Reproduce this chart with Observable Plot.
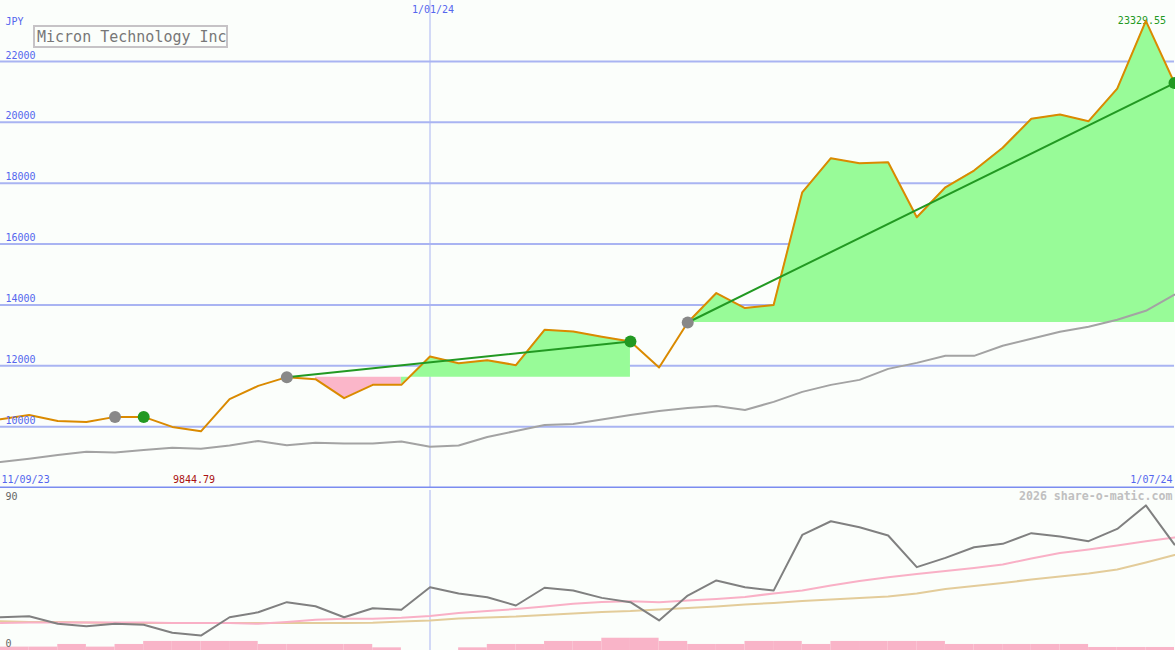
<!DOCTYPE html>
<html><head><meta charset="utf-8">
<script src="https://cdn.jsdelivr.net/npm/d3@7"></script>
<script src="https://cdn.jsdelivr.net/npm/@observablehq/plot@0.6"></script>
<style>
html,body{margin:0;padding:0;background:#fbfefb;}
#wrap{position:relative;width:1175px;height:650px;overflow:hidden;}
#wrap svg{display:block;}
#title{position:absolute;left:33px;top:25px;width:195px;height:23px;box-sizing:border-box;border:2px solid #c6c3c6;padding-left:2px;font:15px "DejaVu Sans Mono",monospace;color:#777;line-height:21px;white-space:nowrap;}
</style></head><body>
<div id="wrap"><div id="top"></div><div id="bottom"></div><div id="title">Micron Technology Inc</div></div>
<script>
const dates = ["2023-09-18","2023-09-25","2023-10-02","2023-10-09","2023-10-16","2023-10-23","2023-10-30","2023-11-06","2023-11-13","2023-11-20","2023-11-27","2023-12-04","2023-12-11","2023-12-18","2023-12-25","2024-01-01","2024-01-08","2024-01-15","2024-01-22","2024-01-29","2024-02-05","2024-02-12","2024-02-19","2024-02-26","2024-03-04","2024-03-11","2024-03-18","2024-03-25","2024-04-01","2024-04-08","2024-04-15","2024-04-22","2024-04-29","2024-05-06","2024-05-13","2024-05-20","2024-05-27","2024-06-03","2024-06-10","2024-06-17","2024-06-24","2024-07-01"];
const price = [10243,10385,10188,10155,10320,10320,9990,9844.79,10901,11339,11625,11559,10934,11372,11372,12303,12085,12184,12020,13181,13125,12951,12796,11941,13421,14389,13895,13994,17699,18818,18653,18686,16877,17864,18413,19160,20114,20256,20036,21102,23329.55,21286];
const movingAvg = [8838,8946,9068,9176,9150,9232,9308,9275,9381,9529,9387,9473,9446,9446,9512,9341,9381,9660,9858,10055,10088,10236,10384,10516,10615,10681,10549,10812,11141,11372,11536,11898,12095,12326,12326,12655,12885,13115,13280,13510,13806,14333];
const oscillator = [18.7,19.3,15.0,13.7,15.0,14.5,10.0,8.4,18.7,21.5,27.2,24.9,18.7,23.8,22.9,35.6,32.1,30.0,25.3,35.3,33.7,29.6,27.2,16.9,30.9,39.4,35.6,33.7,65.0,72.7,69.3,64.7,46.9,52.1,58.1,60.0,66.0,64.1,61.5,68.4,81.6,59.6];
const oscPink = [15.4,15.75,15.75,15.75,15.75,15.75,15.5,15.4,15.4,15.0,16.0,17.3,17.8,17.8,18.4,19.4,21.1,22.2,23.3,24.75,26.3,27.3,27.7,27.2,28.1,29.0,30.1,32.1,33.75,36.6,39.1,41.2,43.0,44.7,46.4,48.4,51.75,54.8,56.8,59.1,61.5,63.6];
const oscTan = [16.5,16.1,16.0,15.75,15.5,15.5,15.4,15.4,15.4,15.4,15.4,15.4,15.4,15.6,16.3,16.9,18.0,18.6,19.1,20.0,20.8,21.7,22.2,23.1,23.9,24.75,25.9,26.7,27.8,28.7,29.5,30.4,32.1,34.6,36.3,38.0,39.9,41.6,43.3,45.6,49.5,53.7];
const volume = [1.9,1.9,3.4,1.9,3.4,5.1,5.1,5.1,5.1,3.4,3.4,3.4,3.4,1.5,0,0,1.5,3.4,3.4,5.1,5.1,6.9,6.9,5.1,3.4,3.4,5.1,5.1,3.4,5.1,5.1,5.1,5.1,3.4,3.4,3.4,3.4,3.4,1.7,1.7,1.7,1.7];
const gridTicks = [10000,12000,14000,16000,18000,20000,22000];
const trendStart = [10,24];
const trendEnd = [22,41];
const greySignals = [4,10,24];
const greenSignals = [5,22,41];
const currency = "JPY";
const yearMark = "2024-01-01";
const yearLabel = "1/01/24";
const rangeStartLabel = "11/09/23";
const rangeEndLabel = "1/07/24";
const oscTop = 90, oscBottom = 0;
const credit = "2026 share-o-matic.com";

const rows = dates.map((d,i)=>({i, date:new Date(d), price:price[i], ma:movingAvg[i], osc:oscillator[i], pink:oscPink[i], tan:oscTan[i], vol:volume[i],
  x2: i < dates.length-1 ? new Date(dates[i+1]) : new Date(+new Date(d) + 7*864e5)}));

const fills = [];
const trendRows = [];
trendStart.forEach((s,k)=>{
  const e = trendEnd[k], base = price[s];
  for (let i=s;i<=e;i++){
    const r = rows[i];
    const nextAbove = i<e && price[i+1] >= base;
    fills.push({seg:k, date:r.date, base,
      green: (r.price >= base || nextAbove) ? r.price : NaN,
      pink: r.price < base ? r.price : NaN});
  }
  trendRows.push({seg:k, date:rows[s].date, v:price[s]}, {seg:k, date:rows[e].date, v:price[e]});
});

const minRow = rows.reduce((a,b)=>b.price<a.price?b:a);
const maxRow = rows.reduce((a,b)=>b.price>a.price?b:a);
const janDate = new Date(yearMark);
const bg = "#fbfefb";
const gridColor = "#a9b4f2";
const blue = "#5566ee";

const topPlot = Plot.plot({
  width:1175, height:488,
  marginLeft:0, marginRight:1, marginTop:0, marginBottom:1,
  x:{type:"utc", domain:[rows[0].date, rows[rows.length-1].date], axis:null},
  y:{domain:[8000,24000], axis:null},
  style:{background:bg, fontFamily:"DejaVu Sans Mono, monospace", fontSize:"10px", display:"block"},
  marks:[
    Plot.ruleY(gridTicks, {stroke:gridColor, strokeWidth:2}),
    Plot.ruleX([janDate], {stroke:gridColor, strokeWidth:1}),
    Plot.ruleY([8000], {stroke:"#7b8cf0", strokeWidth:2}),
    Plot.areaY(fills, {x:"date", y1:"base", y2:"green", z:"seg", fill:"#98fb98", curve:"linear"}),
    Plot.areaY(fills, {x:"date", y1:"pink", y2:"base", z:"seg", fill:"#fbb6c9", curve:"linear"}),
    Plot.line(rows, {x:"date", y:"ma", stroke:"#a3a3a3", strokeWidth:2}),
    Plot.text([maxRow], {x:"date", y:"price", text:d=>d.price.toFixed(2), dx:-28, textAnchor:"start", lineAnchor:"middle", fill:"#229922"}),
    Plot.line(rows, {x:"date", y:"price", stroke:"#da8a00", strokeWidth:2}),
    Plot.line(trendRows, {x:"date", y:"v", z:"seg", stroke:"#229922", strokeWidth:2}),
    Plot.dot(greySignals.map(i=>rows[i]), {x:"date", y:"price", r:6, fill:"#888888", stroke:null}),
    Plot.dot(greenSignals.map(i=>rows[i]), {x:"date", y:"price", r:6, fill:"#229922", stroke:null}),
    Plot.text(gridTicks, {y:d=>d, text:d=>String(d), frameAnchor:"left", textAnchor:"start", lineAnchor:"middle", dx:5, dy:-6, fill:blue}),
    Plot.text([currency], {frameAnchor:"top-left", textAnchor:"start", lineAnchor:"middle", dx:5, dy:21, fill:blue}),
    Plot.text([janDate], {x:d=>d, text:()=>yearLabel, frameAnchor:"top", lineAnchor:"middle", dy:9, dx:3, textAnchor:"middle", fill:blue}),
    Plot.text([rangeStartLabel], {frameAnchor:"bottom-left", textAnchor:"start", lineAnchor:"middle", dx:1, dy:-8, fill:blue}),
    Plot.text([rangeEndLabel], {frameAnchor:"bottom-right", textAnchor:"end", lineAnchor:"middle", dx:-2, dy:-8, fill:blue}),
    Plot.text([minRow], {x:"date", text:d=>d.price.toFixed(2), frameAnchor:"bottom", lineAnchor:"middle", dx:-28, dy:-8, textAnchor:"start", fill:"#aa1111"})
  ]
});

const bottomPlot = Plot.plot({
  width:1175, height:162,
  marginLeft:0, marginRight:1, marginTop:2, marginBottom:0,
  x:{type:"utc", domain:[rows[0].date, rows[rows.length-1].date], axis:null},
  y:{domain:[oscBottom, oscTop], axis:null},
  style:{background:bg, fontFamily:"DejaVu Sans Mono, monospace", fontSize:"10px", display:"block"},
  marks:[
    Plot.rect(rows, {x1:"date", x2:"x2", y1:0, y2:"vol", fill:"#f9b4c8", clip:true}),
    Plot.ruleX([janDate], {stroke:gridColor, strokeWidth:1}),
    Plot.line(rows, {x:"date", y:"tan", stroke:"#e3cc9a", strokeWidth:2}),
    Plot.line(rows, {x:"date", y:"pink", stroke:"#f9b0c6", strokeWidth:2}),
    Plot.line(rows, {x:"date", y:"osc", stroke:"#808080", strokeWidth:2}),
    Plot.text([oscTop], {y:d=>d, text:d=>String(d), frameAnchor:"left", textAnchor:"start", lineAnchor:"middle", dx:5, dy:6, fill:"#666"}),
    Plot.text([oscBottom], {y:d=>d, text:d=>String(d), frameAnchor:"left", textAnchor:"start", lineAnchor:"middle", dx:5, dy:-7, fill:"#666"}),
    Plot.text([credit], {y:()=>oscTop, frameAnchor:"right", textAnchor:"end", lineAnchor:"middle", dx:-2, dy:5.5, fill:"#c0c0c0", fontWeight:"bold", fontSize:11.6})
  ]
});

document.getElementById("top").appendChild(topPlot);
document.getElementById("bottom").appendChild(bottomPlot);
</script>
</body></html>
